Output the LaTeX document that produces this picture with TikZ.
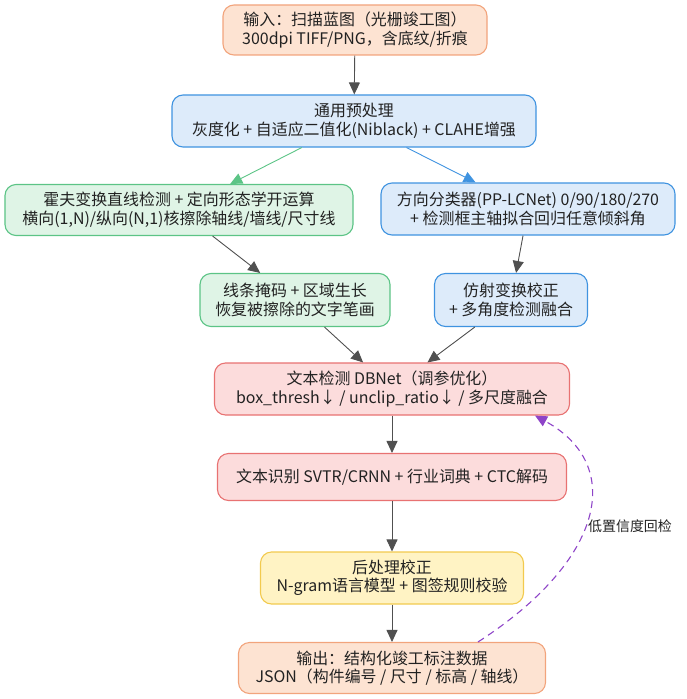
\documentclass[tikz,border=0pt]{standalone}
\usepackage{fontspec}
\setmainfont{Noto Sans CJK SC}
\usetikzlibrary{arrows.meta}

\definecolor{orangefill}{HTML}{FDE3D2}
\definecolor{orangeline}{HTML}{F2A47C}
\definecolor{bluefill}{HTML}{DDEBFA}
\definecolor{blueline}{HTML}{3F93E0}
\definecolor{greenfill}{HTML}{DFF4E6}
\definecolor{greenline}{HTML}{5CC486}
\definecolor{redfill}{HTML}{FCDCDC}
\definecolor{redline}{HTML}{E87272}
\definecolor{yellowfill}{HTML}{FFF3C4}
\definecolor{yellowline}{HTML}{F2CA4E}
\definecolor{edgegray}{HTML}{505050}
\definecolor{textgray}{HTML}{222222}
\definecolor{loopline}{HTML}{8E44C8}

\begin{document}
\begin{tikzpicture}[x=1bp,y=-1bp,
    box/.style={rounded corners=11bp, line width=1.1pt, align=center, inner sep=2bp,
        text=textgray, font=\fontsize{16}{18.5}\selectfont},
    orangebox/.style={box, fill=orangefill, draw=orangeline},
    bluebox/.style={box, fill=bluefill, draw=blueline},
    greenbox/.style={box, fill=greenfill, draw=greenline},
    redbox/.style={box, fill=redfill, draw=redline},
    yellowbox/.style={box, fill=yellowfill, draw=yellowline},
    flow/.style={draw=edgegray, line width=0.9pt, -{Triangle[length=12bp,width=11bp]}},
    greenflow/.style={flow, draw=greenline, -{Triangle[length=12bp,width=11bp,fill=greenline]}},
    blueflow/.style={flow, draw=blueline, -{Triangle[length=12bp,width=11bp,fill=blueline]}},
    loopflow/.style={draw=loopline, line width=1.1pt, dash pattern=on 7bp off 5bp,
        -{Triangle[length=12bp,width=11bp]}}]

    % Fix the page size
    \useasboundingbox (0,0) rectangle (687,699);

    % Input and preprocessing
    \node[orangebox, minimum width=264bp, minimum height=50bp] (input) at (355,30)
        {输入：扫描蓝图（光栅竣工图）\\300dpi TIFF/PNG，含底纹/折痕};
    \node[bluebox, minimum width=364bp, minimum height=52bp] (prep) at (354,121)
        {通用预处理\\灰度化 + 自适应二值化(Niblack) + CLAHE增强};

    % Left branch: line removal
    \node[greenbox, minimum width=348bp, minimum height=51bp] (hough) at (179,210)
        {霍夫变换直线检测 + 定向形态学开运算\\横向(1,N)/纵向(N,1)核擦除轴线/墙线/尺寸线};
    \node[greenbox, minimum width=190bp, minimum height=53bp] (mask) at (295,300)
        {线条掩码 + 区域生长\\恢复被擦除的文字笔画};

    % Right branch: orientation
    \node[bluebox, minimum width=294bp, minimum height=52bp] (orient) at (528,209)
        {方向分类器(PP-LCNet) 0/90/180/270\\+ 检测框主轴拟合回归任意倾斜角};
    \node[bluebox, minimum width=153bp, minimum height=53bp] (affine) at (511,300)
        {仿射变换校正\\+ 多角度检测融合};

    % Detection, recognition, post processing
    \node[redbox, minimum width=355bp, minimum height=52bp] (detect) at (392,389)
        {文本检测 DBNet（调参优化）\\box\_thresh↓ / unclip\_ratio↓ / 多尺度融合};
    \node[redbox, minimum width=349bp, minimum height=47bp] (recog) at (392,477)
        {文本识别 SVTR/CRNN + 行业词典 + CTC解码};
    \node[yellowbox, minimum width=263bp, minimum height=52bp] (post) at (392,578)
        {后处理校正\\N-gram语言模型 + 图签规则校验};
    \node[orangebox, minimum width=307bp, minimum height=51bp] (output) at (392,668)
        {输出：结构化竣工标注数据\\JSON（构件编号 / 尺寸 / 标高 / 轴线）};

    % Draw arrows
    \draw[flow] (input) -- (prep);
    \draw[greenflow] (prep) -- (hough);
    \draw[blueflow] (prep) -- (orient);
    \draw[flow] (hough) -- (mask);
    \draw[flow] (orient) -- (affine);
    \draw[flow] (mask) -- (detect);
    \draw[flow] (affine) -- (detect);
    \draw[flow] (detect) -- (recog);
    \draw[flow] (recog) -- (post);
    \draw[flow] (post) -- (output);

    % Low confidence loop back
    \coordinate (loopstart) at ([xshift=86bp]output.north);
    \coordinate (loopend) at ([xshift=143bp]detect.south);
    \draw[loopflow] (loopstart) .. controls (605,560) and (625,465) .. (loopend);
    \node[font=\fontsize{14}{16}\selectfont, text=textgray] (looplabel) at (630,526) {低置信度回检};

\end{tikzpicture}
\end{document}
